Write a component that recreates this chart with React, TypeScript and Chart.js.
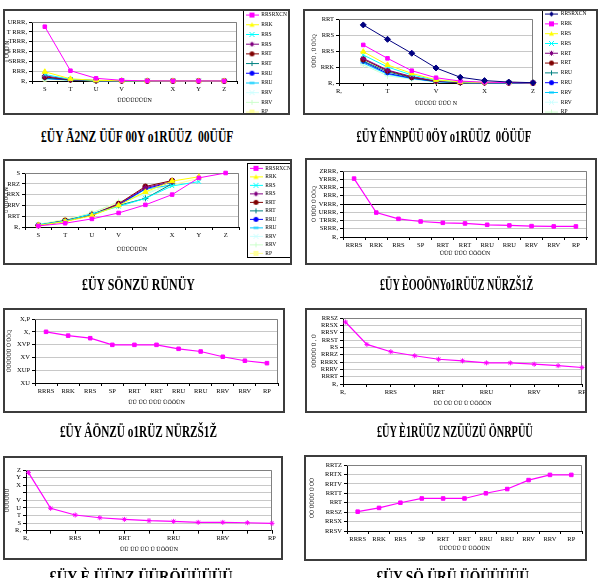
import React, { useEffect, useLayoutEffect, useRef } from "react";
import { Chart, registerables } from "chart.js";

Chart.register(...registerables);

const FONT = "'Liberation Serif', 'Times New Roman', serif";

// ---------------- DATA ----------------
// Panel 1
const p1Categories = ["S", "T", "U", "V", "", "X", "Y", "Z"];
const p1YTicks = ["R,", "RRR,", "SRRR,", "S RRR,", "TRRR,", "T RRR,", "URRR,"];
const p1Legend = ["RRSRXCN", "RRK", "RRS", "RRS", "RRT", "RRT", "RRU", "RRU", "RRV", "RRV", "RP"];
const p1Series: number[][] = [
  [2760, 523, 137, 35, 8, 5, 4, 3],
  [470, 110, 35, 12, 5, 3, 2, 2],
  [330, 85, 25, 9, 4, 2, 2, 1],
  [260, 75, 22, 8, 4, 2, 1, 1],
  [210, 65, 20, 7, 3, 2, 1, 1],
  [170, 58, 18, 6, 3, 2, 1, 1],
  [140, 52, 16, 6, 3, 1, 1, 1],
  [120, 48, 15, 5, 2, 1, 1, 1],
  [105, 44, 14, 5, 2, 1, 1, 1],
  [95, 40, 13, 5, 2, 1, 1, 1],
  [85, 37, 12, 4, 2, 1, 1, 1],
];

// Panel 2
const p2X = [1, 2, 3, 4, 5, 6, 7, 8];
const p2XTicks = ["R,", "", "T", "", "V", "", "X", "", "Z"];
const p2YTicks = ["R,", "RRK", "RRS", "RRS", "RRT"];
const p2Legend = ["RRSRXCN", "RRK", "RRS", "RRS", "RRT", "RRT", "RRU", "RRU", "RRV", "RRV", "RP"];
const p2Series: number[][] = [
  [3.63, 2.73, 1.86, 0.94, 0.36, 0.15, 0.06, 0.02],
  [2.38, 1.54, 0.77, 0.33, 0.12, 0.05, 0.03, 0.01],
  [1.96, 1.13, 0.6, 0.2, 0.07, 0.03, 0.05, 0.01],
  [1.75, 1.0, 0.5, 0.17, 0.06, 0.02, 0.01, 0.01],
  [1.54, 0.81, 0.4, 0.13, 0.05, 0.02, 0.01, 0],
  [1.48, 0.77, 0.36, 0.12, 0.04, 0.02, 0.01, 0],
  [1.37, 0.7, 0.33, 0.1, 0.04, 0.01, 0, 0],
  [1.33, 0.6, 0.3, 0.09, 0.03, 0.01, 0, 0],
  [1.25, 0.55, 0.28, 0.08, 0.03, 0.01, 0, 0],
  [1.2, 0.5, 0.26, 0.07, 0.02, 0.01, 0, 0],
  [1.13, 0.45, 0.24, 0.06, 0.02, 0.01, 0, 0],
];

// Panel 3
const p3Categories = ["S", "T", "U", "V", "", "X", "Y", "Z"];
const p3YTicks = ["R,", "RRT", "RRV", "RRX", "RRZ", "S"];
const p3Legend = ["RRSRXCN", "RRK", "RRS", "RRS", "RRT", "RRT", "RRU", "RRU", "RRV", "RRV", "RP"];
const p3Series: (number | null)[][] = [
  [0.02, 0.07, 0.15, 0.26, 0.41, 0.6, 0.91, 1.0],
  [0.03, 0.1, 0.21, 0.4, 0.65, 0.85, 0.93, null],
  [0.04, 0.11, 0.24, 0.38, 0.53, 0.76, 0.84, null],
  [0.03, 0.11, 0.22, 0.42, 0.73, 0.84, null, null],
  [0.03, 0.12, 0.23, 0.43, 0.75, 0.86, null, null],
  [0.03, 0.11, 0.23, 0.4, 0.53, 0.8, null, null],
  [0.03, 0.11, 0.22, 0.41, 0.71, 0.83, null, null],
  [0.04, 0.12, 0.24, 0.4, 0.7, 0.78, null, null],
  [0.04, 0.12, 0.25, 0.42, 0.62, 0.8, null, null],
  [0.05, 0.13, 0.26, 0.47, 0.6, 0.82, null, null],
  [0.05, 0.14, 0.26, 0.45, 0.64, 0.78, 0.9, null],
];

// Panels 4, 5, 8 (shared categories)
const catLabels11 = ["RRRS", "RRK", "RRS", "SP", "RRT", "RRT", "RRU", "RRU", "RRV", "RRV", "RP"];
const p4Values = [7080, 2960, 2200, 1880, 1720, 1640, 1480, 1400, 1320, 1280, 1280];
const p4YTicks = ["R,", "SRRR,", "TRRR,", "URRR,", "VRRR,", "RRR,", "XRRR,", "YRRR,", "ZRRR,"];

const p5Values = [4.0, 3.7, 3.5, 2.98, 2.98, 2.98, 2.67, 2.46, 2.05, 1.74, 1.55];
const p5YTicks = ["XU", "XUP", "XV", "XVP", "X,", "X,P"];

const p8Values = [0.181, 0.189, 0.2, 0.209, 0.209, 0.209, 0.22, 0.229, 0.248, 0.259, 0.259];
const p8YTicks = ["RRSV", "RRSX", "RRSZ", "RRT", "RRTT", "RRTV", "RRTX", "RRTZ"];

// Panels 6, 7 (linear x)
const xRatio = [0.01, 0.1, 0.2, 0.3, 0.4, 0.5, 0.6, 0.7, 0.8, 0.9, 1.0];
const ratioTicks = ["R,", "", "RRS", "", "RRT", "", "RRU", "", "RRV", "", "RP"];
const p6Values = [0.169, 0.108, 0.088, 0.077, 0.0675, 0.063, 0.0576, 0.0576, 0.054, 0.05, 0.045];
const p6YTicks = ["R,", "RRRT", "RRRV", "RRRX", "RRRZ", "RS", "RRST", "RRSV", "RRSX", "RRSZ"];
const p7Values = [7.65, 2.95, 2.07, 1.71, 1.49, 1.32, 1.23, 1.1, 1.1, 1.05, 0.97];
const p7YTicks = ["R,", "S", "T", "U", "V", "", "X", "Y", "Z"];

// Captions
const captions = [
  "£ÜY Ã2NZ ÜÜF 00Y o1RÜÜZ  00ÜÜF",
  "£ÜY ÊNNPÜÜ 0ÖY o1RÜÜZ  0ÖÜÜF",
  "£ÜY SÖNZÜ RÜNÜY",
  "£ÜY ÈOOÖNYo1RÜÜZ NÜRZŠ1Ž",
  "£ÜY ÂÖNZÜ o1RÜZ NÜRZŠ1Ž",
  "£ÜY È1RÜÜZ NZÜÜZÜ ÖNRPÜÜ",
  "£ÜY È ÜÜNZ ÜÜRÖÜÜÜÜÜ",
  "£ÜY SÖ ÜRÜ ÜÖÜÜÜÜÜ",
];

// ---------------- STYLES ----------------
type St = { color: string; marker: string; r: number };
const styleA: St[] = [
  { color: "#FF00FF", marker: "rect", r: 2.5 },
  { color: "#FFFF00", marker: "triangle", r: 3 },
  { color: "#00FFFF", marker: "crossRot", r: 3 },
  { color: "#800080", marker: "star", r: 3 },
  { color: "#800000", marker: "circle", r: 2.5 },
  { color: "#008080", marker: "cross", r: 3 },
  { color: "#0000FF", marker: "circle", r: 1.5 },
  { color: "#00CCFF", marker: "line", r: 3 },
  { color: "#CCFFFF", marker: "crossRot", r: 3 },
  { color: "#CCFFCC", marker: "cross", r: 3 },
  { color: "#FFFF99", marker: "rect", r: 2.5 },
];
const styleB: St[] = [{ color: "#000080", marker: "rectRot", r: 3 }, ...styleA.slice(0, 10)];
const MAG = "#FF00FF";
const TICK_SIZE = 6.5;

function drawMarker(g: CanvasRenderingContext2D, marker: string, x: number, y: number, r: number, color: string) {
  g.fillStyle = color;
  g.strokeStyle = color;
  g.lineWidth = 1;
  g.beginPath();
  if (marker === "rect") { g.fillRect(x - r, y - r, 2 * r, 2 * r); return; }
  if (marker === "rectRot") { g.moveTo(x, y - r); g.lineTo(x + r, y); g.lineTo(x, y + r); g.lineTo(x - r, y); g.closePath(); g.fill(); return; }
  if (marker === "triangle") { g.moveTo(x, y - r); g.lineTo(x + r, y + r * 0.8); g.lineTo(x - r, y + r * 0.8); g.closePath(); g.fill(); return; }
  if (marker === "circle") { g.arc(x, y, r, 0, Math.PI * 2); g.fill(); return; }
  if (marker === "cross") { g.moveTo(x - r, y); g.lineTo(x + r, y); g.moveTo(x, y - r); g.lineTo(x, y + r); g.stroke(); return; }
  if (marker === "crossRot") { g.moveTo(x - r, y - r); g.lineTo(x + r, y + r); g.moveTo(x + r, y - r); g.lineTo(x - r, y + r); g.stroke(); return; }
  if (marker === "star") {
    g.moveTo(x - r, y); g.lineTo(x + r, y); g.moveTo(x, y - r); g.lineTo(x, y + r);
    g.moveTo(x - r * 0.7, y - r * 0.7); g.lineTo(x + r * 0.7, y + r * 0.7);
    g.moveTo(x + r * 0.7, y - r * 0.7); g.lineTo(x - r * 0.7, y + r * 0.7);
    g.stroke(); return;
  }
  if (marker === "line") { g.lineWidth = 2; g.moveTo(x - r, y); g.lineTo(x + r, y); g.stroke(); return; }
}

function legendIcon(st: St) {
  const c = document.createElement("canvas");
  c.width = 13;
  c.height = 7;
  const g = c.getContext("2d")!;
  g.strokeStyle = st.color;
  g.lineWidth = 1;
  g.beginPath();
  g.moveTo(0, 3.5);
  g.lineTo(13, 3.5);
  g.stroke();
  drawMarker(g, st.marker, 6.5, 3.5, 2.5, st.color);
  return c;
}

// ---------------- PLUGINS ----------------
const plotFrame = {
  id: "plotFrame",
  beforeDatasetsDraw(chart: any) {
    const { ctx, chartArea: a } = chart;
    ctx.save();
    ctx.strokeStyle = "#808080";
    ctx.lineWidth = 1;
    ctx.beginPath();
    const t = Math.round(a.top) + 0.5;
    const r = Math.round(a.right) - 0.5;
    ctx.moveTo(a.left, t);
    ctx.lineTo(r, t);
    ctx.lineTo(r, a.bottom);
    ctx.stroke();
    ctx.restore();
  },
};

const legendFix = {
  id: "legendFix",
  beforeLayout(chart: any, _a: any, opts: any) {
    const lg = chart.legend;
    if (!lg || !opts || !opts.layoutWidth) return;
    if (!lg.__fixed) {
      const w = opts.layoutWidth;
      const orig = lg.fit;
      lg.fit = function () {
        orig.call(this);
        this.width = w;
      };
      lg.__fixed = true;
    }
  },
  afterLayout(chart: any, _a: any, opts: any) {
    const lg = chart.legend;
    if (!lg || !opts || !opts.frame) return;
    const pad = opts.pad;
    lg.left = opts.itemX - pad;
    lg.right = opts.frame.x + opts.frame.w;
    lg.top = opts.itemY - pad;
    lg.bottom = 2000;
    lg.width = lg.right - lg.left;
    lg.height = lg.bottom - lg.top;
  },
  afterDraw(chart: any, _a: any, opts: any) {
    if (!opts || !opts.frame) return;
    const f = opts.frame;
    const ctx = chart.ctx;
    ctx.save();
    ctx.strokeStyle = "#000";
    ctx.lineWidth = 1;
    ctx.strokeRect(f.x + 0.5, f.y + 0.5, f.w - 1, f.h - 1);
    ctx.restore();
  },
};

// ---------------- BUILDERS ----------------
function lineDs(label: string, data: any[], st: St, width = 1) {
  return {
    label,
    data,
    borderColor: st.color,
    backgroundColor: st.color,
    pointStyle: st.marker,
    pointRadius: st.r,
    pointBorderColor: st.color,
    pointBackgroundColor: st.color,
    pointBorderWidth: 1,
    borderWidth: width,
    tension: 0,
    clip: false,
    spanGaps: false,
  };
}

function yAxis(o: { min: number; max: number; step: number; labels: string[]; width: number; title: string; titlePad: number; gridColor?: any }) {
  return {
    type: "linear",
    position: "left",
    min: o.min,
    max: o.max,
    ticks: {
      stepSize: o.step,
      autoSkip: false,
      padding: 2,
      font: { size: TICK_SIZE, family: FONT },
      color: "#000",
      callback: (_v: any, i: number) => o.labels[i] ?? "",
    },
    grid: { color: o.gridColor ?? "#c8c8c8", lineWidth: 1, drawTicks: true, tickLength: 3, tickColor: "#000" },
    border: { display: true, color: "#000", width: 1 },
    title: { display: true, text: o.title, font: { size: 5.5, family: FONT }, color: "#000", padding: { top: o.titlePad, bottom: 0 } },
    afterFit: (s: any) => { s.width = o.width; },
  };
}

function xCat(o: { height: number; title: string }) {
  return {
    type: "category",
    offset: true,
    ticks: { autoSkip: false, maxRotation: 0, minRotation: 0, padding: 1, font: { size: TICK_SIZE, family: FONT }, color: "#000" },
    grid: { offset: true, drawOnChartArea: false, drawTicks: true, tickLength: 3, tickColor: "#000" },
    border: { display: true, color: "#000", width: 1 },
    title: { display: true, text: o.title, font: { size: 6, family: FONT }, color: "#000", padding: 0 },
    afterFit: (s: any) => { s.height = o.height; },
  };
}

function xLin(o: { min: number; max: number; step: number; labels: string[]; height: number; title: string }) {
  return {
    type: "linear",
    min: o.min,
    max: o.max,
    ticks: {
      stepSize: o.step,
      autoSkip: false,
      maxRotation: 0,
      minRotation: 0,
      padding: 1,
      font: { size: TICK_SIZE, family: FONT },
      color: "#000",
      callback: (_v: any, i: number) => o.labels[i] ?? "",
    },
    grid: { drawOnChartArea: false, drawTicks: true, tickLength: 3, tickColor: "#000" },
    border: { display: true, color: "#000", width: 1 },
    title: { display: true, text: o.title, font: { size: 6, family: FONT }, color: "#000", padding: 0 },
    afterFit: (s: any) => { s.height = o.height; },
  };
}

function legendOpts(styles: St[], pad: number) {
  const icons = styles.map(legendIcon);
  return {
    display: true,
    position: "right",
    align: "start",
    labels: {
      usePointStyle: true,
      pointStyleWidth: 13,
      padding: pad,
      font: { size: 5.5, family: FONT },
      color: "#000",
      generateLabels: (chart: any) =>
        chart.data.datasets.map((d: any, i: number) => ({
          text: d.label,
          pointStyle: icons[i],
          fillStyle: "rgba(0,0,0,0)",
          strokeStyle: "rgba(0,0,0,0)",
          lineWidth: 0,
          hidden: false,
          datasetIndex: i,
          fontColor: "#000",
        })),
    },
  };
}

function makeConfig(o: { labels?: any[]; datasets: any[]; scales: any; padding: any; legend?: any; legendFix?: any }) {
  return {
    type: "line",
    data: { labels: o.labels, datasets: o.datasets },
    options: {
      responsive: false,
      maintainAspectRatio: false,
      animation: false,
      events: [],
      layout: { padding: o.padding },
      scales: o.scales,
      plugins: {
        legend: o.legend ?? { display: false },
        title: { display: false },
        tooltip: { enabled: false },
        legendFix: o.legendFix ?? {},
      },
    },
    plugins: [plotFrame, legendFix],
  } as any;
}

// ---------------- PANELS ----------------
type Box = { x: number; y: number; w: number; h: number };

const panels: { box: Box; build: () => any }[] = [
  {
    box: { x: 3, y: 9, w: 287, h: 106 },
    build: () =>
      makeConfig({
        labels: p1Categories,
        datasets: p1Series.map((s, i) => lineDs(p1Legend[i], s, styleA[i])),
        scales: {
          x: xCat({ height: 22.6, title: "ÜÜÜÜÜÜÜN" }),
          y: yAxis({ min: 0, max: 3000, step: 500, labels: p1YTicks, width: 29, title: "ü ÜÜÜ N", titlePad: 1.5 }),
        },
        padding: { top: 13, left: 0, right: 0, bottom: 11.4 },
        legend: legendOpts(styleA, 4.2),
        legendFix: { layoutWidth: 53, itemX: 242.5, itemY: 3.3, pad: 4.2, frame: { x: 240, y: 1, w: 47, h: 105 } },
      }),
  },
  {
    box: { x: 303, y: 9, w: 295, h: 106 },
    build: () =>
      makeConfig({
        datasets: p2Series.map((s, i) => lineDs(p2Legend[i], p2X.map((x, k) => ({ x, y: s[k] })), styleB[i])),
        scales: {
          x: xLin({ min: 0, max: 8, step: 1, labels: p2XTicks, height: 23.6, title: "ÜÜÜÜÜ ÜÜÜ N" }),
          y: yAxis({ min: 0, max: 4, step: 1, labels: p2YTicks, width: 36, title: "ÜÜÜ , Ü ÜÖQ", titlePad: 8.4 }),
        },
        padding: { top: 10, left: 0, right: 0, bottom: 8.4 },
        legend: legendOpts(styleB, 4.3),
        legendFix: { layoutWidth: 65, itemX: 242, itemY: 2.3, pad: 4.3, frame: { x: 239, y: 1, w: 55, h: 105 } },
      }),
  },
  {
    box: { x: 3, y: 159, w: 289, h: 106 },
    build: () =>
      makeConfig({
        labels: p3Categories,
        datasets: p3Series.map((s, i) => lineDs(p3Legend[i], s, styleA[i])),
        scales: {
          x: xCat({ height: 25.6, title: "ÜÜÜÜÜÜN" }),
          y: yAxis({ min: 0, max: 1, step: 0.2, labels: p3YTicks, width: 22, title: "ü ÜÜÜÖ N", titlePad: 0.5 }),
        },
        padding: { top: 14, left: 0, right: 0, bottom: 12.4 },
        legend: legendOpts(styleA, 3.0),
        legendFix: { layoutWidth: 53, itemX: 246.5, itemY: 6.6, pad: 3.0, frame: { x: 244, y: 4, w: 45, h: 95 } },
      }),
  },
  {
    box: { x: 305, y: 158, w: 292, h: 107 },
    build: () =>
      makeConfig({
        labels: catLabels11,
        datasets: [lineDs("p4", p4Values, { color: MAG, marker: "rect", r: 2.5 }, 1.2)],
        scales: {
          x: xCat({ height: 19.6, title: "ÜÜÜ ÜÜÜ ÜÖÖÜN" }),
          y: yAxis({
            min: 0, max: 8000, step: 1000, labels: p4YTicks, width: 38, title: "Ü ÜÜÜ Ü ÜÖQ", titlePad: 6.4,
            gridColor: (c: any) => (c.tick && c.tick.value === 4000 ? "#000" : "#c8c8c8"),
          }),
        },
        padding: { top: 13, left: 0, right: 10, bottom: 8.4 },
      }),
  },
  {
    box: { x: 3, y: 308, w: 282, h: 105 },
    build: () =>
      makeConfig({
        labels: catLabels11,
        datasets: [lineDs("p5", p5Values, { color: MAG, marker: "rect", r: 2.5 }, 1.2)],
        scales: {
          x: xCat({ height: 22.6, title: "ÜÜ ÜÜ ÜÜÜ ÜÖÖÜN" }),
          y: yAxis({ min: 0, max: 5, step: 1, labels: p5YTicks, width: 32, title: "ÜÜÜÜÜÜ Ü ÜÖQ", titlePad: 3.4 }),
        },
        padding: { top: 11, left: 0, right: 7, bottom: 7.4 },
      }),
  },
  {
    box: { x: 305, y: 308, w: 282, h: 105 },
    build: () =>
      makeConfig({
        datasets: [lineDs("p6", xRatio.map((x, k) => ({ x, y: p6Values[k] })), { color: MAG, marker: "star", r: 2.5 }, 1.2)],
        scales: {
          x: xLin({ min: 0, max: 1, step: 0.1, labels: ratioTicks, height: 22.6, title: "ÜÜ ÜÜ ÜÜ Ü ÜÖÖÜN" }),
          y: yAxis({ min: 0, max: 0.18, step: 0.02, labels: p6YTicks, width: 38, title: "ÜÜÜÜÜ Ü , Ü", titlePad: 6.4 }),
        },
        padding: { top: 10, left: 0, right: 4, bottom: 6.4 },
      }),
  },
  {
    box: { x: 3, y: 456, w: 280, h: 104 },
    build: () =>
      makeConfig({
        datasets: [lineDs("p7", xRatio.map((x, k) => ({ x, y: p7Values[k] })), { color: MAG, marker: "star", r: 2.5 }, 1.2)],
        scales: {
          x: xLin({ min: 0, max: 1, step: 0.1, labels: ratioTicks, height: 21.9, title: "ÜÜ ÜÜ ÜÜ Ü ÜÖÖÜN" }),
          y: yAxis({ min: 0, max: 8, step: 1, labels: p7YTicks, width: 23, title: "ÜÜÜÜÜÜ", titlePad: 1.4 }),
        },
        padding: { top: 14, left: 0, right: 11, bottom: 7.4 },
      }),
  },
  {
    box: { x: 304, y: 455, w: 283, h: 106 },
    build: () =>
      makeConfig({
        labels: catLabels11,
        datasets: [lineDs("p8", p8Values, { color: MAG, marker: "rect", r: 2.5 }, 1.2)],
        scales: {
          x: xCat({ height: 20.6, title: "ÜÜÜÜÜ Ü ÜÖÖÜN" }),
          y: yAxis({ min: 0.14, max: 0.28, step: 0.02, labels: p8YTicks, width: 43, title: "ÜÜ ÜÜÜÜ Ü ÜÜ", titlePad: 5.4 }),
        },
        padding: { top: 10, left: 0, right: 5, bottom: 9.4 },
      }),
  },
];

const captionPos = [
  { cx: 137, cy: 137, w: 192 },
  { cx: 444, cy: 137, w: 175 },
  { cx: 138, cy: 285, w: 113 },
  { cx: 457, cy: 285, w: 153 },
  { cx: 138, cy: 432, w: 157 },
  { cx: 455, cy: 432, w: 156 },
  { cx: 141, cy: 577, w: 183 },
  { cx: 453, cy: 577, w: 153 },
];

function ChartPanel({ box, build }: { box: Box; build: () => any }) {
  const ref = useRef<HTMLCanvasElement>(null);
  useEffect(() => {
    const chart = new Chart(ref.current!, build());
    return () => chart.destroy();
  }, []);
  return (
    <>
      <canvas
        ref={ref}
        width={box.w}
        height={box.h}
        style={{ position: "absolute", left: box.x, top: box.y, width: box.w, height: box.h }}
      />
      <div
        style={{
          position: "absolute",
          left: box.x,
          top: box.y,
          width: box.w,
          height: box.h,
          border: "2px solid #3c3c3c",
          boxSizing: "border-box",
          pointerEvents: "none",
        }}
      />
    </>
  );
}

function Caption({ text, cx, cy, w }: { text: string; cx: number; cy: number; w: number }) {
  const ref = useRef<HTMLSpanElement>(null);
  useLayoutEffect(() => {
    const el = ref.current;
    if (!el) return;
    const nat = el.offsetWidth;
    if (nat > 0) el.style.transform = `scaleX(${w / nat})`;
  }, []);
  return (
    <div style={{ position: "absolute", left: cx - 300, top: cy - 10, width: 600, textAlign: "center", lineHeight: "20px" }}>
      <span
        ref={ref}
        style={{
          display: "inline-block",
          whiteSpace: "pre",
          font: `bold 17px ${FONT}`,
          color: "#000",
          transformOrigin: "center center",
        }}
      >
        {text}
      </span>
    </div>
  );
}

export default function App() {
  return (
    <div style={{ position: "fixed", left: 0, top: 0, width: 598, height: 578, background: "#fff", overflow: "hidden" }}>
      {panels.map((p, i) => (
        <ChartPanel key={i} box={p.box} build={p.build} />
      ))}
      {captions.map((c, i) => (
        <Caption key={i} text={c} cx={captionPos[i].cx} cy={captionPos[i].cy} w={captionPos[i].w} />
      ))}
    </div>
  );
}
